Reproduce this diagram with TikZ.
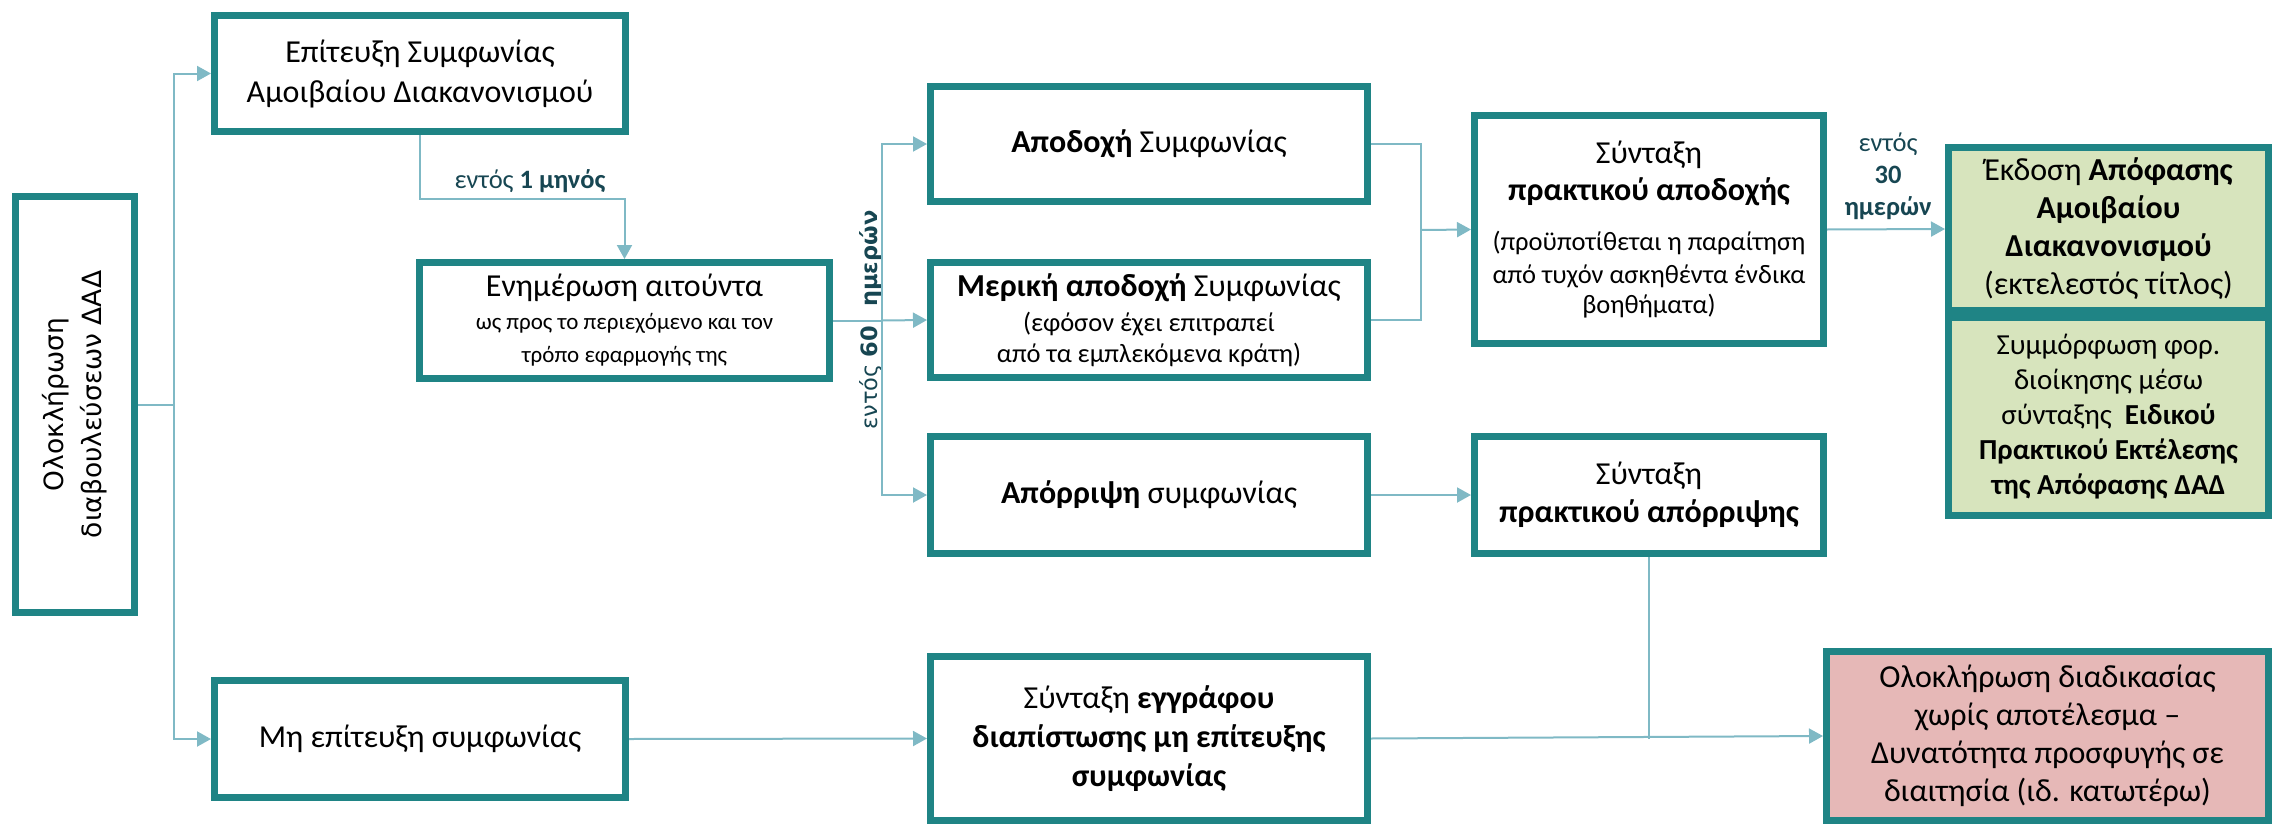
\documentclass[tikz,border=0pt]{standalone}
\usepackage{fontspec}
\setmainfont{Carlito}
\newfontfamily\dejavu{DejaVu Sans}
\usetikzlibrary{arrows.meta}
\definecolor{bord}{RGB}{31,132,133}
\definecolor{lnc}{RGB}{127,185,197}
\definecolor{lbc}{RGB}{23,70,82}
\definecolor{gfill}{RGB}{215,228,189}
\definecolor{rfill}{RGB}{230,184,183}
\newcommand\fszA{\fontsize{32}{39}\selectfont}
\newcommand\fszB{\fontsize{23}{32}\selectfont}
\newcommand\fszS{\fontsize{26.5}{32}\selectfont}
\newcommand\fszC{\fontsize{26.5}{32}\selectfont}
\begin{document}
\begin{tikzpicture}[x=1pt,y=-1pt,
  box/.style={draw=bord,line width=7pt,fill=white,align=center,inner sep=0pt,font=\fszA},
  conn/.style={draw=lnc,line width=2pt},
  arr/.style={conn,-{Triangle[length=14pt,width=15pt]}},
  lbl/.style={text=lbc,font=\fszC,align=center,inner sep=0pt}]
\useasboundingbox (0,0) rectangle (2279,835);
% nodes
\node[box,rotate=90,minimum width=416,minimum height=119,font=\dejavu\fontsize{26.5}{38}\selectfont] (L) at (75,404.5) {Ολοκλήρωση\\διαβουλεύσεων ΔΑΔ};
\node[box,minimum width=411,minimum height=116] (E) at (420,73.5) {Επίτευξη Συμφωνίας\\[1pt]Αμοιβαίου Διακανονισμού};
\node[box,minimum width=410,minimum height=116] (N) at (624.5,320.5) {Ενημέρωση αιτούντα\\[-6pt]{\fszB ως προς το περιεχόμενο και τον}\\[-6pt]{\fszB τρόπο εφαρμογής της}};
\node[box,minimum width=437,minimum height=115] (A) at (1149,144) {\textbf{Αποδοχή} Συμφωνίας};
\node[box,minimum width=437,minimum height=115] (M) at (1149,320) {\textbf{Μερική αποδοχή} Συμφωνίας\\[-4pt]{\fszS (εφόσον έχει επιτραπεί}\\[-8pt]{\fszS από τα εμπλεκόμενα κράτη)}};
\node[box,minimum width=437,minimum height=117] (R) at (1149,495) {\textbf{Απόρριψη} συμφωνίας};
\node[box,minimum width=349,minimum height=228] (SA) at (1649,229.5) {Σύνταξη\\[-2pt]\textbf{πρακτικού αποδοχής}\\[11pt]{\fszS (προϋποτίθεται η παραίτηση}\\[-6pt]{\fszS από τυχόν ασκηθέντα ένδικα}\\[-9pt]{\fszS βοηθήματα)}};
\node[box,minimum width=349,minimum height=117] (SR) at (1649,495) {Σύνταξη\\[-1pt]\textbf{πρακτικού απόρριψης}};
\node[box,fill=gfill,minimum width=320,minimum height=163,font=\fontsize{32}{38}\selectfont] (G1) at (2108.5,229) {Έκδοση \textbf{Απόφασης}\\\textbf{Αμοιβαίου}\\\textbf{Διακανονισμού}\\(εκτελεστός τίτλος)};
\node[box,fill=gfill,minimum width=320,minimum height=198,font=\fontsize{29}{35}\selectfont] (G2) at (2108.5,416.5) {Συμμόρφωση φορ.\\διοίκησης μέσω\\σύνταξης \ \textbf{Ειδικού}\\\textbf{Πρακτικού Εκτέλεσης}\\\textbf{της Απόφασης ΔΑΔ}};
\node[box,minimum width=411,minimum height=117] (ME) at (420,739) {Μη επίτευξη συμφωνίας};
\node[box,minimum width=437,minimum height=164] (SE) at (1149,738.5) {Σύνταξη \textbf{εγγράφου}\\\textbf{διαπίστωσης μη επίτευξης}\\\textbf{συμφωνίας}};
\node[box,fill=rfill,minimum width=442,minimum height=169,font=\fontsize{32}{38}\selectfont] (Rd) at (2047.5,736) {Ολοκλήρωση διαδικασίας\\χωρίς αποτέλεσμα –\\Δυνατότητα προσφυγής σε\\διαιτησία (ιδ. κατωτέρω)};
% labels
\node[lbl] (l1) at (530,181) {εντός \textbf{1 μηνός}};
\node[lbl,rotate=90,font=\dejavu\fontsize{22.5}{28}\selectfont] (l60) at (871,320) {εντός \textbf{60}\hspace{19pt}\textbf{ημερών}};
\node[lbl] (l30) at (1888,176) {εντός\\\textbf{30}\\\textbf{ημερών}};
% connectors
\coordinate (jL) at (174,404.5);
\draw[conn] (L.south) -- (jL);
\draw[arr] (jL) |- (E.west);
\draw[arr] (jL) |- (ME.west);
\draw[arr] (E.south) -- ++(0,64) -| (N.north);
\coordinate (jN) at (882,320.5);
\draw[conn] (N.east) -- (jN);
\draw[arr] (jN) |- (A.west);
\draw[arr] (jN) -- (M.west);
\draw[arr] (jN) |- (R.west);
\coordinate (jA) at (1421,230);
\draw[conn] (A.east) -| (jA);
\draw[conn] (M.east) -| (jA);
\draw[arr] (jA) -- (SA.west);
\draw[arr] (SA.east) -- (G1.west);
\draw[arr] (R.east) -- (SR.west);
\draw[arr] (ME.east) -- (SE.west);
\draw[arr] (SE.east) -- (Rd.west);
\draw[conn] (SR.south) -- (SR.south |- SE.east);
\end{tikzpicture}
\end{document}
